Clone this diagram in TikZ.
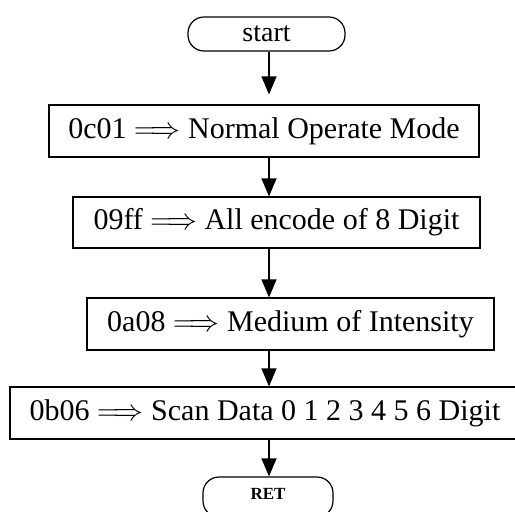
\documentclass[tikz,border=0pt]{standalone}
\usepackage{fix-cm}
\usepackage{fontspec}
\setmainfont{Liberation Serif}
\usetikzlibrary{arrows.meta}
\newcommand{\ldarrow}{$\Longrightarrow$}
\begin{document}
\begin{tikzpicture}[x=1pt,y=-1pt,
  stepbox/.style={draw, line width=1.2pt, inner sep=0pt,
    font=\fontsize{30}{34}\selectfont},
  terminal/.style={draw, line width=1.2pt, rounded corners=16pt, inner sep=0pt},
  flow/.style={-{Triangle[length=18pt,width=15pt]}, line width=1.2pt}]
\useasboundingbox (0,0) rectangle (515,512);
\begin{scope}
\clip (0,0) rectangle (515,512);
% terminals and process steps
\node[terminal, minimum width=157pt, minimum height=34pt,
      font=\fontsize{28}{32}\selectfont] (start) at (266.5,34) {start};
\node[stepbox, minimum width=430pt, minimum height=52pt] (b1) at (264,131)
  {0c01 \ldarrow{} Normal Operate Mode};
\node[stepbox, minimum width=407pt, minimum height=51pt] (b2) at (276.5,222.5)
  {09ff \ldarrow{} All encode of 8 Digit};
\node[stepbox, minimum width=407pt, minimum height=52pt] (b3) at (290.5,324)
  {0a08 \ldarrow{} Medium of Intensity};
\node[stepbox, minimum width=510pt, minimum height=52pt] (b4) at (265,413)
  {0b06 \ldarrow{} Scan Data 0 1 2 3 4 5 6 Digit};
\node[terminal, minimum width=130pt, minimum height=40pt,
      font=\fontsize{17}{20}\selectfont\bfseries] (ret) at (268,497)
  {\raisebox{6pt}{RET}};
% connectors
\draw[flow, shorten >=10pt] (start.south -| 269,0) -- (b1.north -| 269,0);
\draw[flow] (b1.south -| 269,0) -- (b2.north -| 269,0);
\draw[flow] (b2.south -| 269,0) -- (b3.north -| 269,0);
\draw[flow] (b3.south -| 269,0) -- (b4.north -| 269,0);
\draw[flow] (b4.south -| 269,0) -- (ret.north -| 269,0);
\end{scope}
\end{tikzpicture}
\end{document}
